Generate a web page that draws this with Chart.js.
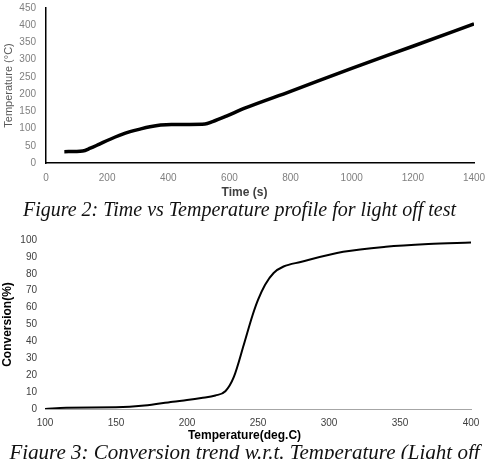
<!DOCTYPE html>
<html>
<head>
<meta charset="utf-8">
<script src="https://cdn.jsdelivr.net/npm/chart.js@4.4.1/dist/chart.umd.min.js"></script>
<style>
  html, body { margin: 0; padding: 0; background: #fff; }
  body { width: 489px; height: 459px; position: relative; overflow: hidden; }
  canvas { position: absolute; left: 0; }
  #timeChart { top: 0; }
  #conversionChart { top: 225px; }
  .axisTitle { position: absolute; left: 0; width: 489px; text-align: center;
    font: bold 12px 'Liberation Sans', Arial, sans-serif; line-height: 14px; }
  .caption { position: absolute; left: 0; width: 489px; text-align: center; white-space: nowrap;
    font-family: 'Liberation Serif', 'Times New Roman', serif; font-style: italic; line-height: 22px; color: #111; }
</style>
</head>
<body>
<canvas id="timeChart" width="489" height="200"></canvas>
<div class="axisTitle" style="top:185px;color:#404040">Time (s)</div>
<div class="caption" style="top:198px;left:-5px;font-size:20px">Figure 2: Time vs Temperature profile for light off test</div>
<canvas id="conversionChart" width="489" height="215"></canvas>
<div class="axisTitle" style="top:428px;color:#000">Temperature(deg.C)</div>
<div class="caption" style="top:441px;font-size:21px">Figure 3: Conversion trend w.r.t. Temperature (Light off</div>

<script>
// Figure 2 - time vs temperature
const timeSeconds = [60, 120, 145, 175, 210, 240, 275, 310, 340, 375, 410, 470, 520, 545, 590, 650, 800, 1000, 1200, 1400]
const temperatureC = [33, 35, 43, 55, 69, 80, 91, 99, 105, 110, 112, 112, 113, 120, 136, 159, 208, 275, 339, 404]
const timeTicks = [0, 200, 400, 600, 800, 1000, 1200, 1400]
const temperatureTicks = [0, 50, 100, 150, 200, 250, 300, 350, 400, 450]

// Figure 3 - conversion vs temperature
const convTemperature = [100, 115, 150, 170, 190, 200, 210, 220, 227, 233, 240, 246, 250, 255, 261, 268, 280, 310, 340, 370, 400]
const conversionPct = [0, 0.8, 1, 2, 4.3, 5.3, 6.5, 8, 10.5, 19, 38, 55, 64.5, 73.5, 80.5, 84.3, 87, 93, 96, 97.6, 98.5]
const convTempTicks = [100, 150, 200, 250, 300, 350, 400]
const conversionTicks = [0, 10, 20, 30, 40, 50, 60, 70, 80, 90, 100]

const tickFont = { family: "'Liberation Sans', Arial, sans-serif", size: 10 }
const plainNumber = (v) => String(v)

function fixedTicks (list) {
  return (scale) => { scale.ticks = list.map(v => ({ value: v })) }
}

// fixed axis size, and no extra room for end labels (layout padding decides)
function fitX (h) {
  return (scale) => { scale.height = h; scale.paddingLeft = 0; scale.paddingRight = 0 }
}
function fitY (w) {
  return (scale) => { scale.width = w; scale.paddingTop = 0; scale.paddingBottom = 0 }
}

new Chart(document.getElementById('timeChart'), {
  type: 'line',
  data: {
    datasets: [{
      data: timeSeconds.map((t, i) => ({ x: t, y: temperatureC[i] })),
      borderColor: '#000',
      borderWidth: 3.5,
      pointRadius: 0,
      cubicInterpolationMode: 'monotone'
    }]
  },
  options: {
    responsive: false,
    animation: false,
    layout: { padding: { left: 0, right: 15, top: 8, bottom: 0 } },
    plugins: { legend: { display: false }, tooltip: { enabled: false } },
    scales: {
      x: {
        type: 'linear', min: 0, max: 1400,
        afterBuildTicks: fixedTicks(timeTicks),
        afterFit: fitX(37),
        grid: { drawOnChartArea: false, drawTicks: false },
        border: { color: '#000', width: 1.5 },
        ticks: { font: tickFont, color: '#7f7f7f', padding: 9, maxRotation: 0, callback: plainNumber }
      },
      y: {
        min: 0, max: 450,
        afterBuildTicks: fixedTicks(temperatureTicks),
        afterFit: fitY(46),
        grid: { drawOnChartArea: false, drawTicks: false },
        border: { color: '#000', width: 1.5 },
        ticks: { font: tickFont, color: '#7f7f7f', padding: 10, callback: plainNumber },
        title: {
          display: true, text: 'Temperature (°C)', color: '#595959',
          font: { family: "'Liberation Sans', Arial, sans-serif", size: 11 },
          padding: { top: 2, bottom: 0 }
        }
      }
    }
  }
})

new Chart(document.getElementById('conversionChart'), {
  type: 'line',
  data: {
    datasets: [{
      data: convTemperature.map((t, i) => ({ x: t, y: conversionPct[i] })),
      borderColor: '#000',
      borderWidth: 2,
      pointRadius: 0,
      cubicInterpolationMode: 'monotone'
    }]
  },
  options: {
    responsive: false,
    animation: false,
    layout: { padding: { left: 0, right: 18, top: 15, bottom: 0 } },
    plugins: { legend: { display: false }, tooltip: { enabled: false } },
    scales: {
      x: {
        type: 'linear', min: 100, max: 400,
        afterBuildTicks: fixedTicks(convTempTicks),
        afterFit: fitX(31),
        grid: { drawOnChartArea: false, drawTicks: false },
        border: { color: '#a6a6a6', width: 1 },
        ticks: { font: tickFont, color: '#404040', padding: 8, maxRotation: 0, callback: plainNumber }
      },
      y: {
        min: 0, max: 100,
        afterBuildTicks: fixedTicks(conversionTicks),
        afterFit: fitY(45),
        grid: { drawOnChartArea: false, drawTicks: false },
        border: { display: false },
        ticks: { font: tickFont, color: '#404040', padding: 8, callback: plainNumber },
        title: {
          display: true, text: 'Conversion(%)', color: '#000',
          font: { family: "'Liberation Sans', Arial, sans-serif", size: 12, weight: 'bold' },
          padding: { top: 0, bottom: 0 }
        }
      }
    }
  }
})
</script>
</body>
</html>
